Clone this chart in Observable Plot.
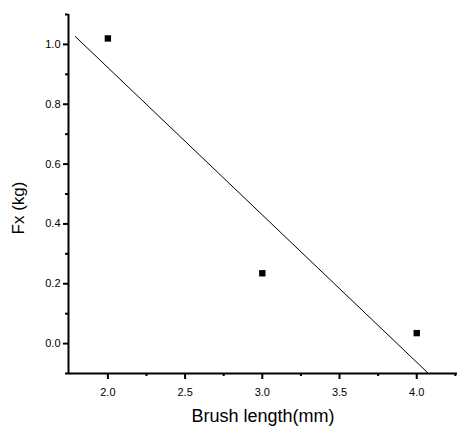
<!DOCTYPE html>
<html>
<head>
<meta charset="utf-8">
<script src="https://cdn.jsdelivr.net/npm/d3@7"></script>
<script src="https://cdn.jsdelivr.net/npm/@observablehq/plot@0.6"></script>
<style>
  html, body { margin: 0; padding: 0; background: #fff; }
  #chart svg { display: block; }
</style>
</head>
<body>
<div id="chart"></div>
<script>
// Data
const brushLength = [2.0, 3.0, 4.0];
const fx = [1.02, 0.235, 0.035];

// Axis settings
const xDomain = [1.745, 4.264];
const yDomain = [-0.1, 1.1];
const xMajorTicks = [2.0, 2.5, 3.0, 3.5, 4.0];
const xMinorTicks = [2.25, 2.75, 3.25, 3.75, 4.25];
const yMajorTicks = [0.0, 0.2, 0.4, 0.6, 0.8, 1.0];
const yMinorTicks = [-0.1, 0.1, 0.3, 0.5, 0.7, 0.9, 1.1];
// x extent of the fitted line as drawn in the reference
const fitExtent = [1.79, 4.071];

const points = brushLength.map((x, i) => ({x, y: fx[i]}));

// least-squares fit
const mx = d3.mean(brushLength), my = d3.mean(fx);
const slope = d3.sum(points, d => (d.x - mx) * (d.y - my)) / d3.sum(points, d => (d.x - mx) ** 2);
const intercept = my - slope * mx;
const fitLine = fitExtent.map(x => ({x, y: intercept + slope * x}));

const font = "'Liberation Sans', Arial, sans-serif";

const chart = Plot.plot({
  width: 463,
  height: 436,
  marginLeft: 68,
  marginRight: 6,
  marginTop: 14,
  marginBottom: 63,
  style: {fontFamily: font, fontSize: "11px", color: "#000", background: "#fff"},
  x: {domain: xDomain},
  y: {domain: yDomain},
  marks: [
    Plot.ruleX([xDomain[0]], {stroke: "#000", strokeWidth: 2}),
    Plot.ruleY([yDomain[0]], {stroke: "#000", strokeWidth: 2}),
    Plot.axisY(yMajorTicks, {tickSize: 5, tickPadding: 3, tickFormat: d3.format(".1f"), label: null, stroke: "#000", strokeWidth: 2, fontSize: 11, letterSpacing: "-0.8px"}),
    Plot.axisY(yMinorTicks, {tickSize: 3, tickFormat: () => "", label: null, stroke: "#000", strokeWidth: 2}),
    Plot.axisX(xMajorTicks, {tickSize: 6, tickPadding: 9, tickFormat: d3.format(".1f"), label: null, stroke: "#000", strokeWidth: 2, fontSize: 11, letterSpacing: "-0.8px"}),
    Plot.axisX(xMinorTicks, {tickSize: 3, tickFormat: () => "", label: null, stroke: "#000", strokeWidth: 2}),
    Plot.text(["Fx (kg)"], {frameAnchor: "left", dx: -50, dy: 14, rotate: -90, fontSize: 17, letterSpacing: "1.5px", textAnchor: "middle"}),
    Plot.text(["Brush length(mm)"], {frameAnchor: "bottom", dy: 48, fontSize: 18, letterSpacing: "-0.5px", textAnchor: "middle"}),
    Plot.line(fitLine, {x: "x", y: "y", stroke: "#000", strokeWidth: 1}),
    Plot.dot(points, {x: "x", y: "y", symbol: "square", r: 3.6, fill: "#000", stroke: "none"})
  ]
});
document.getElementById("chart").append(chart);
</script>
</body>
</html>
